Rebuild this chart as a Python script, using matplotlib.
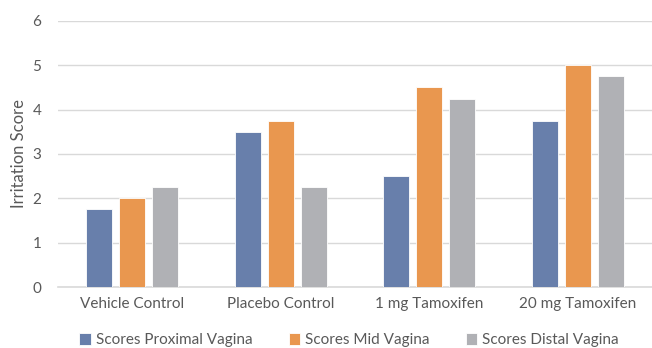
import numpy as np
import matplotlib.pyplot as plt

plt.rcParams['font.family'] = ['Lato', 'DejaVu Sans']

groups = ['Vehicle Control', 'Placebo Control', '1 mg Tamoxifen', '20 mg Tamoxifen']
proximal = [1.75, 3.5, 2.5, 3.75]
mid = [2.0, 3.75, 4.5, 5.0]
distal = [2.25, 2.25, 4.25, 4.75]
series_names = ['Scores Proximal Vagina', 'Scores Mid Vagina', 'Scores Distal Vagina']
colors = ['#687fab', '#e9974f', '#b0b1b5']
text_color = '#595959'

fig = plt.figure(figsize=(6.52, 3.48), dpi=100)
ax = fig.add_axes([0.089, 0.175, 0.911, 0.765])

x = np.arange(len(groups))
width = 0.175
step = 0.222
for i, (vals, name, c) in enumerate(zip([proximal, mid, distal], series_names, colors)):
    ax.bar(x + (i - 1) * step, vals, width, color=c, label=name,
           edgecolor='white', linewidth=0.6, zorder=3)

ax.set_xlim(-0.5, len(groups) - 0.5)
ax.set_ylim(0, 6)
ax.set_yticks(range(7))
ax.set_xticks(x)
ax.set_xticklabels(groups)
ax.grid(axis='y', color='#d9d9d9', linewidth=1, zorder=0)
for s in ['top', 'right', 'left']:
    ax.spines[s].set_visible(False)
ax.spines['bottom'].set_color('#d9d9d9')
ax.spines['bottom'].set_linewidth(1.2)
ax.tick_params(axis='both', length=0, labelsize=11, colors=text_color, pad=7)
ax.tick_params(axis='y', pad=12)
ax.set_ylabel('Irritation Score', fontsize=12, color=text_color, labelpad=4)

ax.legend(loc='center', bbox_to_anchor=(0.49, -0.2), ncol=3, frameon=False,
          fontsize=11, labelcolor=text_color, handlelength=0.75, handleheight=0.75,
          handletextpad=0.3, columnspacing=2.4)

plt.savefig('out.png', dpi=100)
